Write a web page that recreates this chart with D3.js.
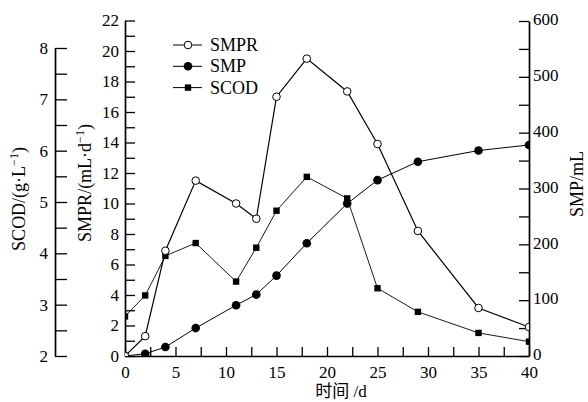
<!DOCTYPE html>
<html>
<head>
<meta charset="utf-8">
<script src="https://cdn.jsdelivr.net/npm/d3@7"></script>
<style>
  body { margin: 0; background: #fff; }
  svg { display: block; }
</style>
</head>
<body>
<div id="chart"></div>
<script>
// data
var days = [0, 2, 4, 7, 11, 13, 15, 18, 22, 25, 29, 35, 40]
var smpr = [0, 1.3, 6.9, 11.5, 10.0, 9.0, 17.0, 19.5, 17.35, 13.9, 8.2, 3.15, 1.9]
var smp = [0, 4, 16, 50, 91, 110, 144, 202, 273, 315, 348, 368, 378]
var scod = [2.77, 3.18, 3.95, 4.2, 3.45, 4.11, 4.83, 5.49, 5.07, 3.32, 2.86, 2.45, 2.28]
var legendNames = ['SMPR', 'SMP', 'SCOD']

var W = 588, H = 402
var serif = '"Liberation Serif", "Times New Roman", serif'

var svg = d3.select('#chart').append('svg')
    .attr('width', W)
    .attr('height', H)

// scales
var x = d3.scaleLinear().domain([0, 40]).range([125, 529])
var ySmpr = d3.scaleLinear().domain([0, 22]).range([356, 20.5])
var ySmp = d3.scaleLinear().domain([0, 600]).range([356, 21])
var yScod = d3.scaleLinear().domain([2, 8]).range([356, 48])

function styleAxis(g, size) {
    g.attr('font-family', serif).attr('font-size', size)
    g.select('.domain').attr('stroke-width', 1.7)
    g.selectAll('.tick line').attr('stroke-width', 1.3)
    g.selectAll('.tick text').attr('fill', '#000')
}

// x axis
svg.append('g')
    .attr('transform', 'translate(0,356)')
    .call(d3.axisBottom(x)
        .tickValues(d3.range(0, 40.1, 2.5))
        .tickFormat(function(d) { return d % 5 === 0 ? d : '' })
        .tickSize(-9).tickSizeOuter(0).tickPadding(10))
    .call(styleAxis, 17)

// SMPR axis
svg.append('g')
    .attr('transform', 'translate(125,0)')
    .call(d3.axisLeft(ySmpr)
        .tickValues(d3.range(0, 22.1, 1))
        .tickFormat(function(d) { return d % 2 === 0 ? d : '' })
        .tickSize(-10).tickSizeOuter(0).tickPadding(6))
    .call(styleAxis, 17)

// SCOD axis
svg.append('g')
    .attr('transform', 'translate(55,0)')
    .call(d3.axisLeft(yScod)
        .tickValues(d3.range(2, 8.01, 0.5))
        .tickFormat(function(d) { return Number.isInteger(d) ? d : '' })
        .tickSize(-12).tickSizeOuter(0).tickPadding(7))
    .call(styleAxis, 17)

// SMP axis
svg.append('g')
    .attr('transform', 'translate(529,0)')
    .call(d3.axisRight(ySmp)
        .tickValues(d3.range(0, 600.1, 50))
        .tickFormat(function(d) { return d % 100 === 0 ? d : '' })
        .tickSize(-10).tickSizeOuter(0).tickPadding(4))
    .call(styleAxis, 17)
    .selectAll('.tick text').attr('dy', '0.22em')

// axis titles
var scodTitle = svg.append('text')
    .attr('transform', 'translate(25,199) rotate(-90)')
    .attr('text-anchor', 'middle')
    .attr('font-family', serif).attr('font-size', 18)
scodTitle.append('tspan').text('SCOD/(g·L')
scodTitle.append('tspan').attr('dy', -7).attr('font-size', 12).text('−1')
scodTitle.append('tspan').attr('dy', 7).text(')')

var smprTitle = svg.append('text')
    .attr('transform', 'translate(91,183) rotate(-90)')
    .attr('text-anchor', 'middle')
    .attr('font-family', serif).attr('font-size', 18)
smprTitle.append('tspan').text('SMPR/(mL·d')
smprTitle.append('tspan').attr('dy', -7).attr('font-size', 12).text('−1')
smprTitle.append('tspan').attr('dy', 7).text(')')

svg.append('text')
    .attr('transform', 'translate(583,184) rotate(-90)')
    .attr('text-anchor', 'middle')
    .attr('font-family', serif).attr('font-size', 18)
    .text('SMP/mL')

svg.append('text')
    .attr('x', 341).attr('y', 397)
    .attr('text-anchor', 'middle')
    .attr('font-family', serif + ', "Noto Sans CJK SC"').attr('font-size', 17)
    .text('时间 /d')

// clip to plot area
svg.append('clipPath').attr('id', 'plot')
    .append('rect').attr('x', 125).attr('y', 0).attr('width', 404).attr('height', 356)

var plot = svg.append('g').attr('clip-path', 'url(#plot)')

function drawSeries(vals, yScale, lw) {
    plot.append('path')
        .datum(vals)
        .attr('fill', 'none')
        .attr('stroke', '#000')
        .attr('stroke-width', lw)
        .attr('d', d3.line()
            .x(function(d, i) { return x(days[i]) })
            .y(function(d) { return yScale(d) }))
}

drawSeries(scod, yScod, 0.9)
drawSeries(smp, ySmp, 1)
drawSeries(smpr, ySmpr, 1.2)

// SCOD squares
plot.selectAll('.sq').data(scod).enter().append('rect')
    .attr('x', function(d, i) { return x(days[i]) - 3.2 })
    .attr('y', function(d) { return yScod(d) - 3.2 })
    .attr('width', 6.4).attr('height', 6.4)
    .attr('fill', '#000')

// SMP filled circles
plot.selectAll('.fc').data(smp).enter().append('circle')
    .attr('cx', function(d, i) { return x(days[i]) })
    .attr('cy', function(d) { return ySmp(d) })
    .attr('r', 4.3)
    .attr('fill', '#000')

// SMPR open circles
plot.selectAll('.oc').data(smpr).enter().append('circle')
    .attr('cx', function(d, i) { return x(days[i]) })
    .attr('cy', function(d) { return ySmpr(d) })
    .attr('r', 3.8)
    .attr('fill', '#fff')
    .attr('stroke', '#000')
    .attr('stroke-width', 1)

// legend
var leg = svg.selectAll('.leg').data(legendNames).enter().append('g')
    .attr('transform', function(d, i) { return 'translate(188,' + (45 + i * 21.3) + ')' })
leg.append('line')
    .attr('x1', -15).attr('x2', 14)
    .attr('stroke', '#000').attr('stroke-width', 1)
leg.each(function(d) {
    var g = d3.select(this)
    if (d === 'SCOD') {
        g.append('rect').attr('x', -3.2).attr('y', -3.2).attr('width', 6.4).attr('height', 6.4).attr('fill', '#000')
    } else if (d === 'SMP') {
        g.append('circle').attr('r', 4.3).attr('fill', '#000')
    } else {
        g.append('circle').attr('r', 3.8).attr('fill', '#fff').attr('stroke', '#000')
    }
})
leg.append('text')
    .attr('x', 22).attr('y', 6)
    .attr('font-family', serif).attr('font-size', 18)
    .text(function(d) { return d })
</script>
</body>
</html>
